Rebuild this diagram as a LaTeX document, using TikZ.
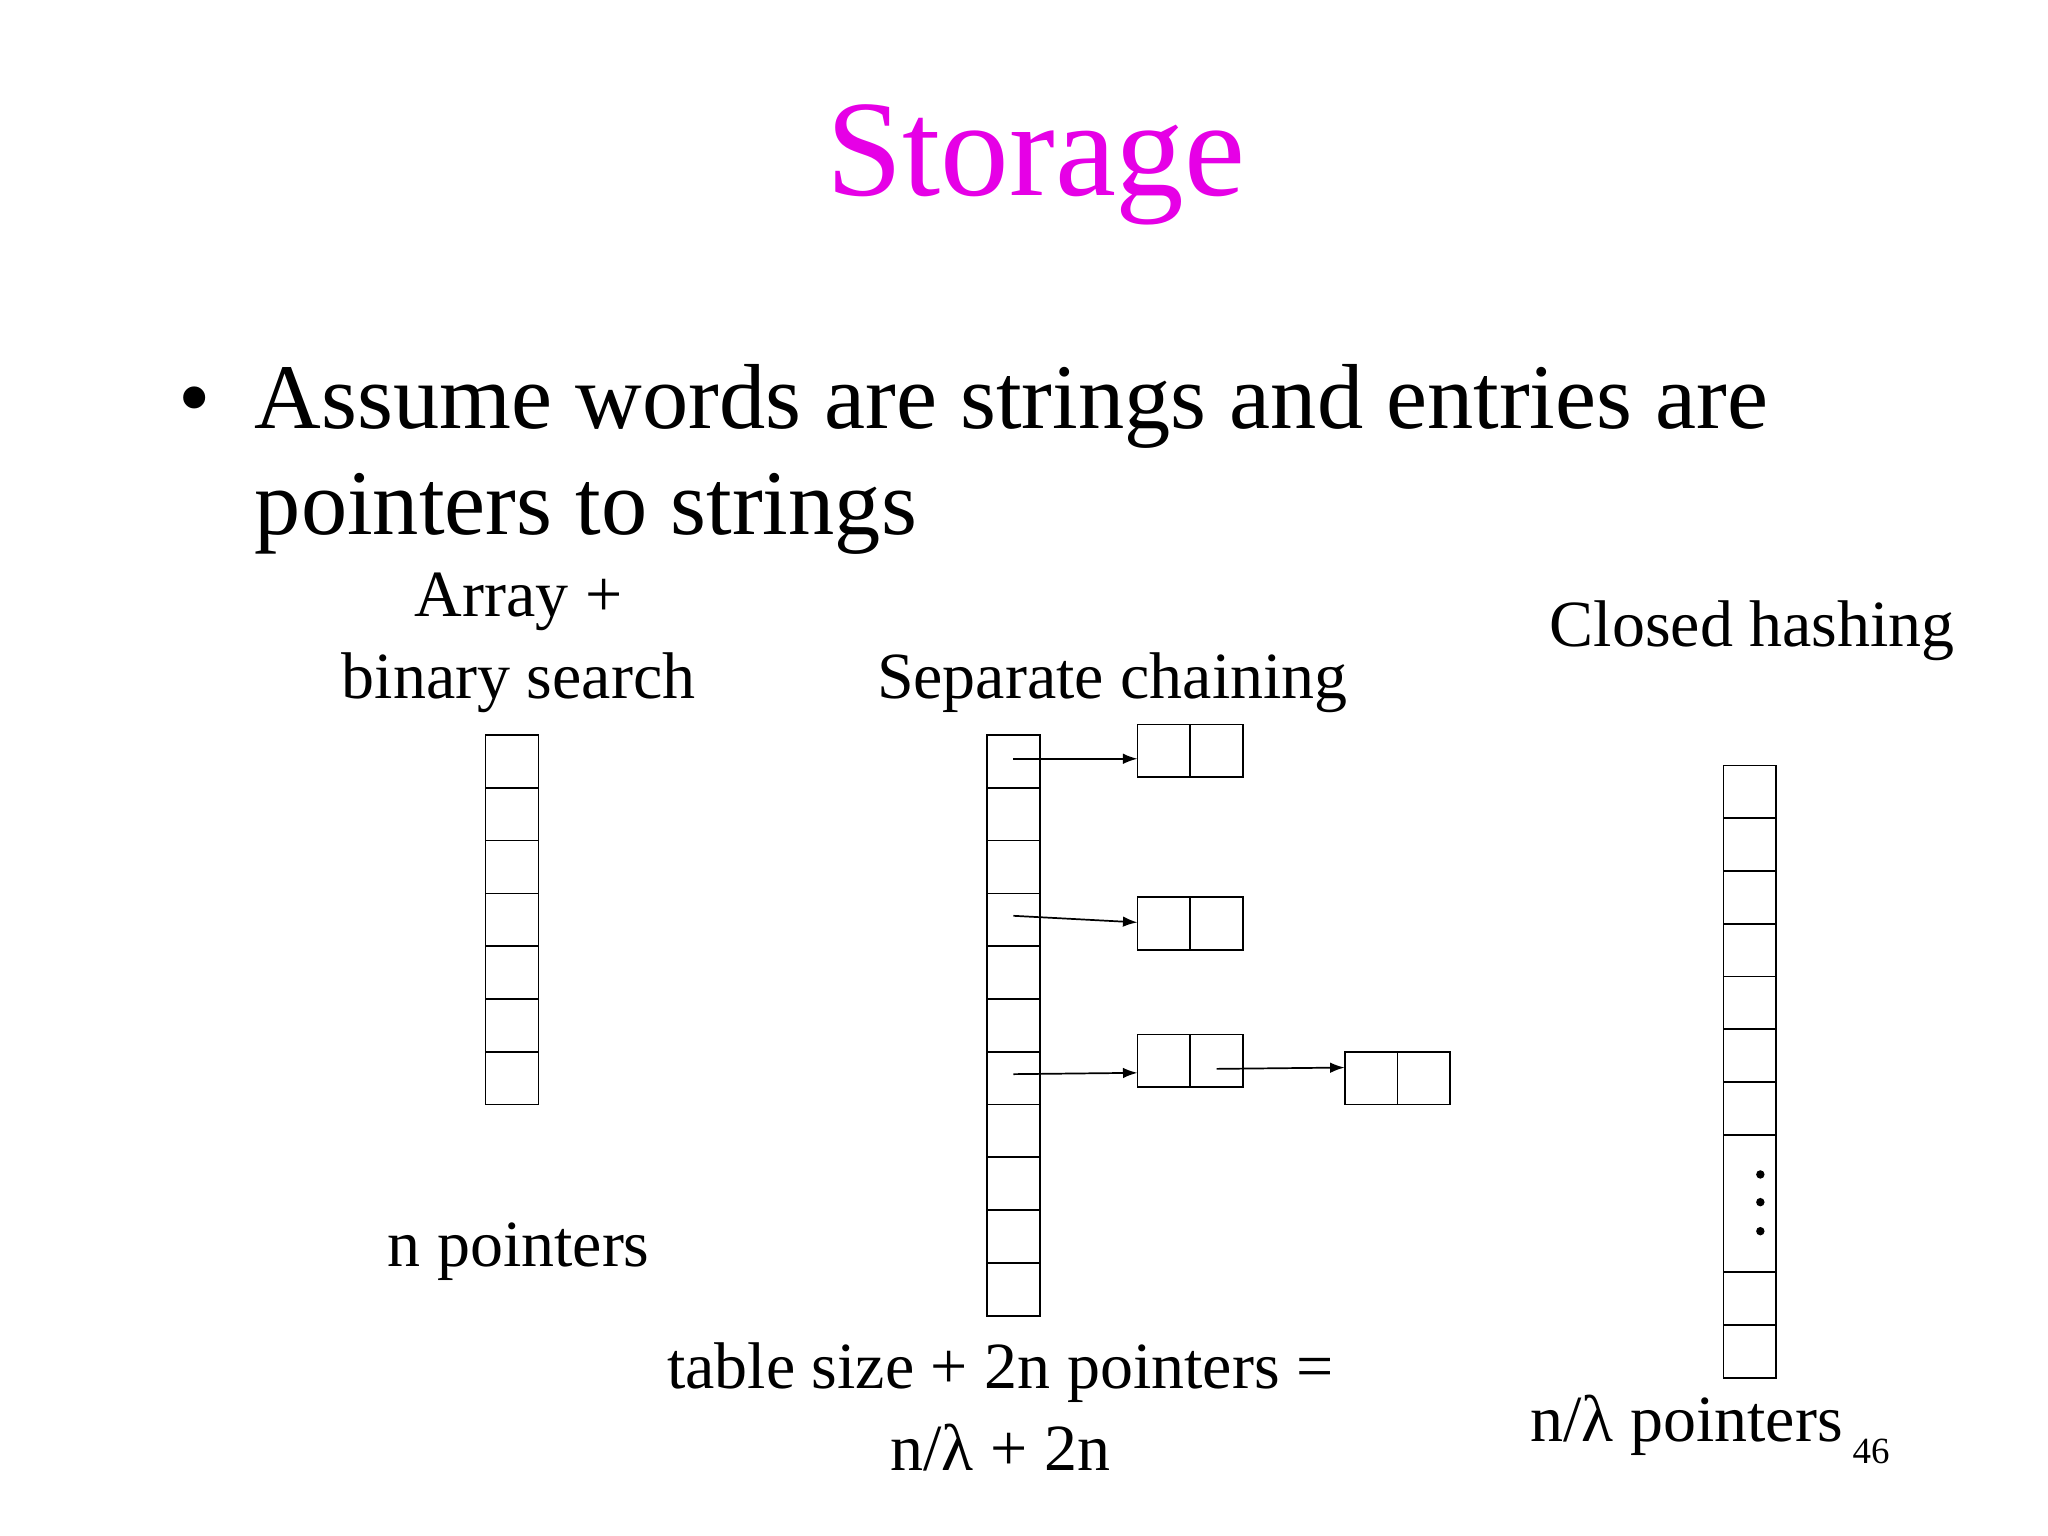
\documentclass[tikz,border=0pt]{standalone}
\usepackage{fontspec}
\setmainfont{Liberation Serif}
\usetikzlibrary{arrows.meta}
\definecolor{titlec}{RGB}{230,0,230}
\begin{document}
\begin{tikzpicture}[x=1pt,y=-1pt,
  cell/.style={draw,line width=1.3pt},
  arr/.style={line width=1.3pt,-{Latex[length=11pt,width=8pt]}},
  lbl/.style={inner sep=0pt,anchor=base,font=\fontsize{50}{60}\selectfont}]
\useasboundingbox (0,0) rectangle (1552,1164);
\node[inner sep=0pt,anchor=base,text=titlec,font=\fontsize{104}{120}\selectfont] (title) at (785,148) {Storage};
\node[inner sep=0pt,anchor=base west,font=\fontsize{70}{84}\selectfont] (bul) at (135,325) {•};
\node[inner sep=0pt,anchor=base west,font=\fontsize{70}{84}\selectfont] (l1) at (193,325) {Assume words are strings and entries are};
\node[inner sep=0pt,anchor=base west,font=\fontsize{70}{84}\selectfont] (l2) at (193,405) {pointers to strings};
\node[lbl] (a1) at (393,467) {Array +};
\node[lbl] (a2) at (393,529) {binary search};
\node[lbl] (sc) at (843,529) {Separate chaining};
\node[lbl] (ch) at (1328,490) {Closed hashing};
\node[lbl] (np) at (393,960) {n pointers};
\node[lbl] (t1) at (758,1052) {table size + 2n pointers =};
\node[lbl] (t2) at (758,1114) {n/λ + 2n};
\node[lbl] (t3) at (1278,1092) {n/λ pointers};
\node[inner sep=0pt,anchor=base,font=\fontsize{28}{32}\selectfont] (pg) at (1418,1109) {46};
% left array
\foreach \i in {0,...,6} \draw[cell] (368,557+40*\i) rectangle ++(40,40);
% middle table
\foreach \i in {0,...,10} \draw[cell] (748,557+40*\i) rectangle ++(40,40);
\coordinate (s1) at (768,575);
\coordinate (s2) at (768,694);
\coordinate (s3) at (768,814);
\coordinate (s4) at (922,810);
\foreach \n/\x/\y in {b1/862/549,b2/862/680,b3/862/784,b4/1019/797}{
  \draw[cell] (\x,\y) rectangle ++(80,40);
  \draw[cell] (\x+40,\y) -- ++(0,40);
  \coordinate (\n) at (\x,\y+20);
}
\draw[arr] (s1) -- (862,575);
\draw[arr] (s2) -- (862,699);
\draw[arr] (s3) -- (862,813);
\draw[arr] (s4) -- (1019,809);
% right table
\foreach \i in {0,...,6} \draw[cell] (1306,580+40*\i) rectangle ++(40,40);
\draw[cell] (1306,860) rectangle (1346,964);
\draw[cell] (1306,964) rectangle ++(40,40);
\draw[cell] (1306,1004) rectangle ++(40,40);
\foreach \y in {890,911,933} \fill (1334,\y) circle (3.2);
\end{tikzpicture}
\end{document}
